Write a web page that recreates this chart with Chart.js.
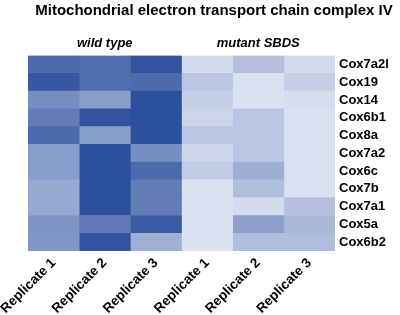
<!DOCTYPE html>
<html>
<head>
<meta charset="utf-8">
<script src="https://cdn.jsdelivr.net/npm/chart.js@4"></script>
<style>
  html, body { margin: 0; padding: 0; background: #ffffff; }
  #wrap { width: 400px; height: 315px; }
</style>
</head>
<body>
<div id="wrap"><canvas id="heatmap"></canvas></div>
<script>
// genes, top to bottom
var genes = ['Cox7a2l', 'Cox19', 'Cox14', 'Cox6b1', 'Cox8a', 'Cox7a2', 'Cox6c', 'Cox7b', 'Cox7a1', 'Cox5a', 'Cox6b2'];
var replicates = ['Replicate 1', 'Replicate 2', 'Replicate 3', 'Replicate 1', 'Replicate 2', 'Replicate 3'];
var groups = ['wild type', 'mutant SBDS'];

// relative expression (0 = lowest, 1 = highest)
var wildType1 = [0.82, 0.95, 0.58, 0.70, 0.82, 0.48, 0.48, 0.40, 0.40, 0.55, 0.52];
var wildType2 = [0.80, 0.80, 0.48, 0.97, 0.48, 1.00, 1.00, 1.00, 1.00, 0.72, 0.97];
var wildType3 = [0.97, 0.82, 1.00, 1.00, 1.00, 0.58, 0.82, 0.70, 0.70, 0.92, 0.35];
var mutant1 = [0.06, 0.20, 0.14, 0.10, 0.20, 0.10, 0.16, 0.02, 0.02, 0.02, 0.02];
var mutant2 = [0.24, 0.02, 0.02, 0.20, 0.20, 0.20, 0.36, 0.26, 0.06, 0.46, 0.26];
var mutant3 = [0.06, 0.14, 0.05, 0.03, 0.03, 0.03, 0.03, 0.03, 0.24, 0.30, 0.26];

var columns = [wildType1, wildType2, wildType3, mutant1, mutant2, mutant3];

var low = [222, 228, 243];
var high = [45, 80, 157];
function heatColor(v) {
    var c = low.map((l, i) => Math.round(l + (high[i] - l) * v));
    return 'rgb(' + c.join(',') + ')';
}

var ctx = document.getElementById('heatmap').getContext('2d');

var myChart = new Chart(ctx, {
    type: 'bar',
    data: {
        labels: genes,
        datasets: columns.map((col, i) => ({
            label: replicates[i],
            data: col.map(() => 1),
            backgroundColor: col.map(heatColor),
            borderWidth: 0,
            barPercentage: 1,
            categoryPercentage: 1
        }))
    },
    options: {
        indexAxis: 'y',
        responsive: true,
        maintainAspectRatio: false,
        animation: false,
        layout: {
            padding: { left: 28, right: 0, top: 0, bottom: 0 }
        },
        scales: {
            x: {
                stacked: true,
                min: 0,
                max: 6,
                display: false
            },
            xBottom: {
                type: 'category',
                labels: replicates,
                position: 'bottom',
                offset: true,
                grid: { display: false, drawTicks: false },
                border: { display: false },
                ticks: {
                    minRotation: 45,
                    maxRotation: 45,
                    padding: 4,
                    color: '#000000',
                    font: { family: 'Liberation Sans, Arial', size: 13.5, weight: 'bold' }
                },
                afterFit: function (scale) {
                    scale.height = 64;
                    scale.paddingLeft = 0; // rotated labels may hang into the left margin
                }
            },
            xTop: {
                type: 'category',
                labels: groups,
                position: 'top',
                offset: true,
                grid: { display: false, drawTicks: false },
                border: { display: false },
                ticks: {
                    padding: 4,
                    color: '#000000',
                    font: { family: 'Liberation Sans, Arial', size: 13, weight: 'bold', style: 'italic' }
                }
            },
            y: {
                stacked: true,
                position: 'right',
                grid: { display: false, drawTicks: false },
                border: { display: false },
                ticks: {
                    autoSkip: false,
                    padding: 4,
                    color: '#000000',
                    font: { family: 'Liberation Sans, Arial', size: 13, weight: 'bold' }
                },
                afterFit: function (scale) {
                    scale.width = 65;
                }
            }
        },
        plugins: {
            legend: { display: false },
            tooltip: { enabled: false },
            title: {
                display: true,
                text: 'Mitochondrial electron transport chain complex IV',
                color: '#000000',
                padding: { top: 2, bottom: 12 },
                font: { family: 'Liberation Sans, Arial', size: 15, weight: 'bold' }
            }
        }
    }
});
</script>
</body>
</html>
